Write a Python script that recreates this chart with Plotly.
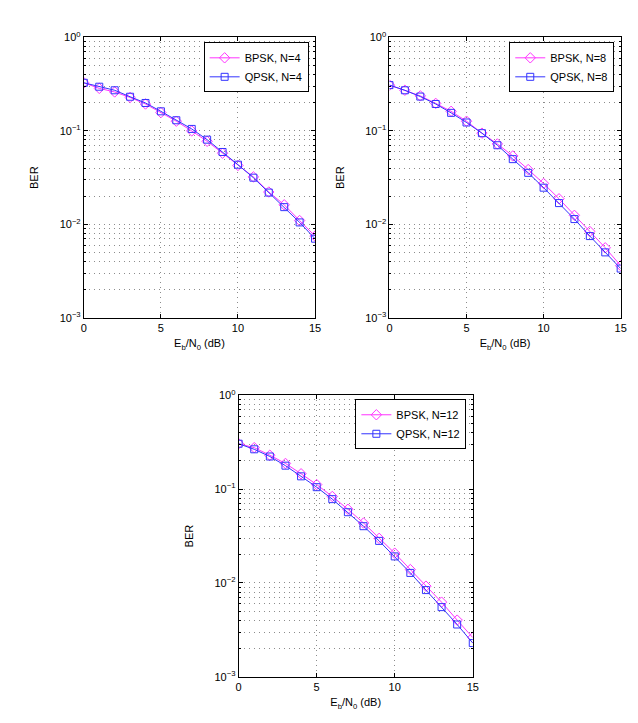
import plotly.graph_objects as go

ebn0 = list(range(16))

bpsk_n4 = [0.327, 0.285, 0.261, 0.228, 0.194, 0.157, 0.127, 0.100, 0.0774, 0.0578, 0.0427, 0.0322, 0.0222, 0.0162, 0.0110, 0.0075]
qpsk_n4 = [0.327, 0.297, 0.272, 0.232, 0.199, 0.162, 0.130, 0.105, 0.0806, 0.0595, 0.0435, 0.0316, 0.0219, 0.0153, 0.0105, 0.00703]

bpsk_n8 = [0.309, 0.272, 0.237, 0.197, 0.162, 0.127, 0.0946, 0.0726, 0.0540, 0.0386, 0.0274, 0.0188, 0.0125, 0.0084, 0.00562, 0.00362]
qpsk_n8 = [0.309, 0.272, 0.233, 0.194, 0.156, 0.123, 0.0946, 0.0703, 0.0499, 0.0356, 0.0247, 0.0169, 0.0114, 0.0075, 0.00502, 0.00337]

bpsk_n12 = [0.305, 0.277, 0.230, 0.188, 0.146, 0.112, 0.0836, 0.0611, 0.0436, 0.0299, 0.0208, 0.0139, 0.00925, 0.00625, 0.00402, 0.00262]
qpsk_n12 = [0.305, 0.266, 0.223, 0.178, 0.137, 0.105, 0.0783, 0.0568, 0.0403, 0.0281, 0.0192, 0.0128, 0.0084, 0.00553, 0.00361, 0.00229]

names_bpsk = ["BPSK, N=4", "BPSK, N=8", "BPSK, N=12"]
names_qpsk = ["QPSK, N=4", "QPSK, N=8", "QPSK, N=12"]

x_ticks = [0, 5, 10, 15]
y_tickvals = [1e-3, 1e-2, 1e-1, 1]
y_ticktext = ["10<sup>\u22123</sup>", "10<sup>\u22122</sup>", "10<sup>\u22121</sup>", "10<sup>0</sup>"]
minor_vals = [m * 10 ** e for e in (-3, -2, -1) for m in range(2, 10)]

FONT = "Liberation Sans, Arial, sans-serif"
MAG = "#ff33ff"
BLU = "#3333ff"
GRID = "#8c8c8c"
DASH = "1px,4px"

fig = go.Figure()

series = [(bpsk_n4, qpsk_n4), (bpsk_n8, qpsk_n8), (bpsk_n12, qpsk_n12)]
for i, (b, q) in enumerate(series):
    ax = "" if i == 0 else str(i + 1)
    leg = "legend" if i == 0 else "legend" + str(i + 1)
    fig.add_trace(go.Scatter(x=ebn0, y=b, mode="lines+markers", name=names_bpsk[i],
                             xaxis="x" + ax, yaxis="y" + ax, legend=leg,
                             line=dict(color=MAG, width=1),
                             marker=dict(symbol="diamond-open", size=8, color=MAG, line=dict(width=1))))
    fig.add_trace(go.Scatter(x=ebn0, y=q, mode="lines+markers", name=names_qpsk[i],
                             xaxis="x" + ax, yaxis="y" + ax, legend=leg,
                             line=dict(color=BLU, width=1),
                             marker=dict(symbol="square-open", size=7, color=BLU, line=dict(width=1))))

W, H = 638, 723
boxes = [  # left, right, top, bottom in px
    (82, 316.5, 30, 316),
    (392, 626.5, 30, 316),
    (239, 476.5, 395, 682),
]
legpos = [(310, 35), (620, 35), (470, 399)]

xcommon = dict(range=[0, 15], tickvals=x_ticks, ticks="inside", ticklen=4, tickcolor="black",
               showline=True, linecolor="black", linewidth=1, mirror="ticks",
               showgrid=True, gridcolor=GRID, griddash=DASH, gridwidth=1,
               zeroline=False, tickfont=dict(size=11, color="black", family=FONT),
               title=dict(text="E<sub>b</sub>/N<sub>0</sub> (dB)", font=dict(size=11, color="black", family=FONT), standoff=6))
ycommon = dict(type="log", range=[-3, 0], tickvals=y_tickvals, ticktext=y_ticktext, ticks="inside", ticklen=4,
               tickcolor="black", showline=True, linecolor="black", linewidth=1, mirror="ticks",
               showgrid=True, gridcolor=GRID, griddash=DASH, gridwidth=1, zeroline=False,
               tickfont=dict(size=11, color="black", family=FONT),
               minor=dict(tickmode="array", tickvals=minor_vals, ticks="inside", ticklen=2, tickcolor="black",
                          showgrid=True, gridcolor=GRID, griddash=DASH, gridwidth=1),
               title=dict(text="BER", font=dict(size=11, color="black", family=FONT), standoff=18))

layout = dict(width=W, height=H, margin=dict(l=0, r=0, t=0, b=0), plot_bgcolor="white", paper_bgcolor="white",
              font=dict(family=FONT, size=11, color="black"), showlegend=True)

for i, (l, r, t, b) in enumerate(boxes):
    ax = "" if i == 0 else str(i + 1)
    xa = dict(xcommon)
    xa["domain"] = [l / W, r / W]
    xa["anchor"] = "y" + ax
    ya = dict(ycommon)
    ya["domain"] = [1 - b / H, 1 - t / H]
    ya["anchor"] = "x" + ax
    layout["xaxis" + ax] = xa
    layout["yaxis" + ax] = ya
    lx, ly = legpos[i]
    layout["legend" if i == 0 else "legend" + str(i + 1)] = dict(
        x=lx / W, y=1 - ly / H, xanchor="right", yanchor="top", xref="paper", yref="paper",
        bgcolor="white", bordercolor="black", borderwidth=1,
        font=dict(size=11, color="black", family=FONT), tracegroupgap=0, itemwidth=30)

fig.update_layout(**layout)
fig.write_html("out.html")
